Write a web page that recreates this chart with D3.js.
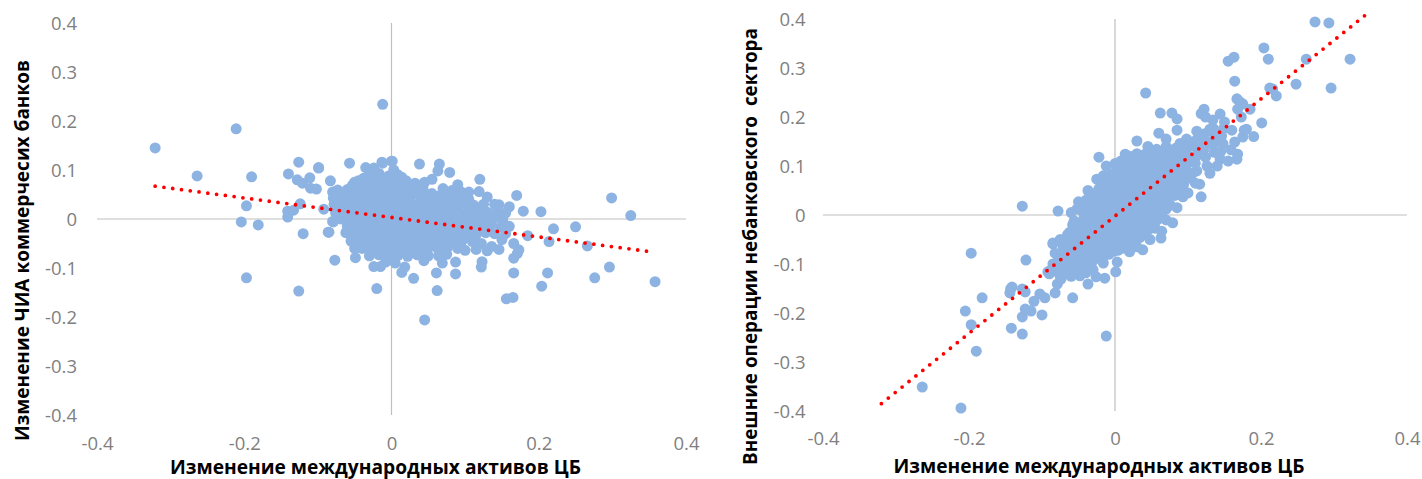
<!DOCTYPE html>
<html><head><meta charset="utf-8">
<script src="https://cdn.jsdelivr.net/npm/d3@7"></script>
<style>html,body{margin:0;padding:0;background:#fff}svg{display:block}</style>
</head><body><svg id="c" width="1422" height="479"></svg>
<script>
const xTicks=[-0.4,-0.2,0,0.2,0.4];
const yTicks=[-0.4,-0.3,-0.2,-0.1,0,0.1,0.2,0.3,0.4];
const xTitle="Изменение международных активов ЦБ";
const yTitleLeft="Изменение ЧИА коммерчесих банков";
const yTitleRight="Внешние операции небанковского  сектора";
const trendLeft=[[-0.321,0.067],[0.358,-0.068]];
const trendRight=[[-0.32,-0.385],[0.343,0.408]];
const leftOutliers=[[-.321,.145],[-.264,.088],[-.211,.184],[-.19,.086],[-.197,.027],[-.204,-.006],[-.181,-.012],[-.197,-.12],[-.126,.116],[-.126,-.147],
[-.012,.234],[-.057,.114],[-.099,.105],[-.035,.105],[-.013,.116],[0,.118],[.038,.112],[.065,.112],[.063,.098],[.079,.095],[.055,.081],[.12,.081],[.094,.056],[.119,.056],[.17,.048],[.146,.029],[.16,.025],[.179,.016],[.203,.015],[.22,-.02],[.214,-.046],[.185,-.034],[.166,-.05],[.173,-.063],[.171,-.07],[.166,-.08],[.166,-.11],[.212,-.11],[.204,-.137],[.165,-.16],[.156,-.163],[.146,-.062],[.123,-.087],[.122,-.098],[.087,-.088],[.087,-.112],[.061,-.11],[.062,-.146],[.03,-.121],[.044,-.085],[.069,-.09],[.064,-.075],[.014,-.109],[.018,-.098],[-.02,-.142],[-.015,-.097],[-.024,-.097],[-.049,-.079],[-.077,-.084],[-.085,-.027],[-.062,-.028],[-.08,-.005],[-.12,-.03],
[.299,.043],[.325,.007],[.25,-.016],[.266,-.055],[.276,-.12],[.296,-.098],[.358,-.128],[.045,-.206],
[-.14,.092],[-.099,.104],[-.128,.08],[-.111,.084],[-.121,.073],[-.11,.063],[-.102,.061],[-.083,.078],[-.073,.059],[-.08,.055],[-.079,.043],[-.056,.061],[-.045,.078],[-.124,.031],[-.141,.016],[-.133,.018],[-.141,.004],[-.092,.02],[-.079,-.006],[-.086,-.027],[-.061,-.027],[-.012,.114],[.001,.118],[-.024,.104],[.003,.1],
[-.075,.045],[-.078,.03],[-.076,.012],[-.05,.075],[.045,.075],[.09,.07],[.105,.055],[.13,.045],[.14,.03],[.155,.012],[.16,-.015],[.155,-.03],[.15,-.042],[.13,-.065],[.115,-.062],[.075,-.072],[.05,-.075],[-.05,-.06],[-.055,-.045]];
const leftCore=[[-.03,.09],[-.017,.093],[-.004,.088],[.008,.091],
[-.045,.075],[-.032,.077],[-.02,.073],[-.006,.076],[.006,.074],[.02,.078],[.032,.073],
[-.06,.06],[-.047,.062],[-.035,.058],[-.021,.061],[-.008,.059],[.005,.063],[.018,.058],[.031,.061],[.043,.06],[.07,.062],[.082,.058],
[-.065,.045],[-.052,.043],[-.04,.047],[-.026,.044],[-.013,.046],[0,.043],[.012,.047],[.025,.044],[.039,.046],[.05,.043],[.064,.047],[.078,.044],[.092,.042],[.105,.04],
[-.07,.03],[-.058,.032],[-.045,.028],[-.032,.031],[-.019,.029],[-.006,.032],[.006,.028],[.02,.031],[.033,.029],[.046,.032],[.058,.028],[.072,.031],[.085,.029],[.098,.032],[.112,.028],[.125,.03],
[-.066,.015],[-.052,.013],[-.04,.017],[-.026,.014],[-.013,.016],[0,.013],[.013,.017],[.026,.014],[.039,.016],[.052,.013],[.065,.017],[.078,.014],[.091,.016],[.104,.013],[.118,.016],[.13,.014],[.143,.012],
[-.068,0],[-.057,-.002],[-.044,.002],[-.031,-.001],[-.018,.001],[-.005,-.002],[.008,.002],[.021,-.001],[.034,.001],[.047,-.002],[.06,.002],[.073,-.001],[.086,.001],[.099,-.002],[.112,.002],[.125,-.001],[.138,.001],[.151,-.002],
[-.06,-.015],[-.048,-.013],[-.035,-.017],[-.022,-.014],[-.009,-.016],[.004,-.013],[.017,-.017],[.03,-.014],[.043,-.016],[.056,-.013],[.069,-.017],[.082,-.014],[.095,-.016],[.108,-.013],[.121,-.017],[.134,-.014],[.148,-.016],
[-.05,-.03],[-.04,-.032],[-.028,-.028],[-.015,-.031],[-.002,-.029],[.011,-.032],[.024,-.028],[.037,-.031],[.05,-.029],[.063,-.032],[.076,-.028],[.089,-.031],[.102,-.029],[.115,-.032],[.128,-.028],[.14,-.03],
[-.046,-.045],[-.034,-.043],[-.021,-.047],[-.008,-.044],[.005,-.046],[.018,-.043],[.031,-.047],[.044,-.044],[.057,-.046],[.07,-.043],[.083,-.047],[.096,-.044],[.11,-.046],[.122,-.05],[.136,-.056],
[-.04,-.06],[-.028,-.058],[-.015,-.062],[-.002,-.059],[.011,-.061],[.024,-.058],[.037,-.062],[.05,-.059],[.063,-.061],[.076,-.058],[.09,-.06],[.1,-.064],
[-.03,-.075],[-.017,-.073],[-.004,-.077],[.009,-.074],[.022,-.076],[.035,-.073],[-.008,-.088],[.005,-.09]];
const leftFill=[[-.038,.083],[-.024,.084],[-.011,.083],[.002,.082],[.014,.085],[.026,.07],[-.053,.069],[-.04,.068],[-.027,.069],[-.014,.067],[0,.069],[.012,.066],[.037,.068],
[-.055,.052],[-.04,.053],[-.028,.052],[-.015,.053],[-.002,.052],[.012,.054],[.025,.052],[.038,.053],[.055,.052],[.07,.053],[.086,.05],
[-.06,.037],[-.046,.036],[-.03,.038],[-.018,.037],[-.004,.038],[.01,.036],[.024,.038],[.04,.037],[.056,.038],[.07,.036],[.085,.037],[.1,.038],
[-.06,.022],[-.045,.023],[-.03,.021],[-.015,.022],[0,.023],[.015,.021],[.03,.022],[.045,.023],[.06,.021],[.075,.022],[.09,.023],[.105,.021],[.12,.022],
[-.06,.007],[-.047,.008],[-.03,.006],[-.016,.007],[-.002,.008],[.014,.006],[.03,.007],[.045,.008],[.06,.006],[.075,.007],[.09,.008],[.105,.006],[.12,.007],[.135,.008],
[-.055,-.008],[-.04,-.007],[-.027,-.009],[-.012,-.008],[.002,-.007],[.016,-.009],[.03,-.008],[.045,-.007],[.06,-.009],[.075,-.008],[.09,-.007],[.105,-.009],[.12,-.008],[.135,-.007],
[-.05,-.023],[-.036,-.022],[-.022,-.024],[-.008,-.023],[.006,-.022],[.02,-.024],[.034,-.023],[.048,-.022],[.062,-.024],[.076,-.023],[.09,-.022],[.104,-.024],[.118,-.023],
[-.042,-.038],[-.028,-.037],[-.014,-.039],[0,-.038],[.014,-.037],[.028,-.039],[.042,-.038],[.056,-.037],[.07,-.039],[.084,-.038],[.098,-.037],
[-.036,-.052],[-.022,-.051],[-.008,-.053],[.006,-.052],[.02,-.051],[.034,-.053],[.048,-.052],[.062,-.051],[.076,-.053],
[-.026,-.067],[-.012,-.066],[.002,-.068],[.016,-.067],[.03,-.066],[.044,-.068]];
const rightOutliers=[[.274,.394],[.293,.392],[.322,.318],[.296,.259],[.262,.318],[.248,.267],[.204,.341],[.21,.318],[.163,.322],[.155,.314],[.164,.273],[.042,.249],[.078,.208],[.122,.216],[.212,.259],[.221,.243],[.216,.257],[.201,.188],[.167,.237],[.175,.227],[.185,.216],[.016,.118],[-.127,.018],[-.078,.008],[-.197,-.078],[-.122,-.092],[-.205,-.196],[-.197,-.224],[-.19,-.278],[-.182,-.169],[-.264,-.351],[-.211,-.394],[-.012,-.247],[-.096,-.169],[-.143,-.151],[-.123,-.157],[-.142,-.231],[-.127,-.243],[-.127,-.208],[-.123,-.192],[-.115,-.196],[-.111,-.176],[-.103,-.161],[-.1,-.204],[-.058,-.169],[-.089,-.114],[-.085,-.059],
[.062,.208],[.085,.196],[-.022,.118],[.03,.151],[.118,.037],[.079,-.016],[.038,-.071],[.055,-.027],[.064,-.033],[.063,-.047],[.001,-.116],[-.014,-.129],[-.037,-.141],[-.026,-.126],[.003,-.096],[-.016,-.098],[-.048,-.124],[-.062,-.035],[-.085,-.057],[-.082,-.078],[-.05,.027],[.014,.124],[.041,.124],[-.025,.073],[-.016,.08],[-.03,.043],[.144,.206],[.134,.194],[.06,.167],[.085,.173],[.112,.171],[.144,.114],[.167,.114],[.168,.124],[.159,.133],[.116,.063],[.126,.1],[.093,.037],[.175,.159],[.177,.173],[.164,.149],[.171,.231],[.168,.216],
[-.141,-.147],[-.144,-.159],[-.127,-.151],[-.082,-.159],[-.079,-.141],[-.074,-.131],[-.092,-.116],[-.064,-.1],[-.071,-.104],[-.052,-.11],[-.071,-.065],
[.118,.207],[.124,.2],[.16,.173],[.15,.19],[.173,.2],[.18,.175],[.19,.16],[.14,.16],[.13,.175],[.12,.145],[.155,.11],[.145,.13],
[-.09,-.12],[-.085,-.1],[-.075,-.125],[-.06,-.125],[-.04,-.118],[-.03,-.112],[-.075,-.05],[-.065,-.04],[-.058,-.02],[-.06,.005],[-.052,.012],[-.04,.03],[-.037,.05],[-.012,.1],[0,.105],[.008,.11],[.02,.12],[.03,.125],[.05,.13],[.045,.14],[.07,.155],[.02,-.075],[.03,-.065],[.048,-.05],[.07,-.01],[.085,.015],[.1,.045],[.11,.065],[.13,.085],[.14,.1]];
const rightCore=[[-.08,-.115],[-.078,-.098],[-.08,-.08],
[-.068,-.12],[-.066,-.104],[-.069,-.088],[-.067,-.072],[-.065,-.055],
[-.056,-.115],[-.054,-.098],[-.057,-.082],[-.055,-.066],[-.056,-.05],[-.053,-.034],[-.056,-.012],
[-.044,-.105],[-.046,-.088],[-.043,-.072],[-.045,-.056],[-.044,-.04],[-.046,-.024],[-.043,-.008],[-.045,.008],
[-.032,-.098],[-.034,-.082],[-.031,-.066],[-.033,-.05],[-.032,-.034],[-.034,-.018],[-.031,-.002],[-.033,.014],[-.032,.03],
[-.02,-.09],[-.022,-.074],[-.019,-.058],[-.021,-.042],[-.02,-.026],[-.022,-.01],[-.019,.006],[-.021,.022],[-.02,.038],[-.022,.054],
[-.008,-.08],[-.01,-.064],[-.007,-.048],[-.009,-.032],[-.008,-.016],[-.01,0],[-.007,.016],[-.009,.032],[-.008,.048],[-.01,.064],[-.007,.08],
[.004,-.072],[.002,-.056],[.005,-.04],[.003,-.024],[.004,-.008],[.002,.008],[.005,.024],[.003,.04],[.004,.056],[.002,.072],[.005,.088],
[.016,-.058],[.014,-.042],[.017,-.026],[.015,-.01],[.016,.006],[.014,.022],[.017,.038],[.015,.054],[.016,.07],[.014,.086],[.017,.102],
[.028,-.05],[.026,-.034],[.029,-.018],[.027,-.002],[.028,.014],[.026,.03],[.029,.046],[.027,.062],[.028,.078],[.026,.094],[.029,.11],
[.04,-.04],[.038,-.024],[.041,-.008],[.039,.008],[.04,.024],[.038,.04],[.041,.056],[.039,.072],[.04,.088],[.038,.104],
[.052,-.014],[.05,.002],[.053,.018],[.051,.034],[.052,.05],[.05,.066],[.053,.082],[.051,.098],[.052,.114],
[.064,.004],[.062,.02],[.065,.036],[.063,.052],[.064,.068],[.062,.084],[.065,.1],[.063,.116],
[.076,.02],[.074,.036],[.077,.052],[.075,.068],[.076,.084],[.074,.1],[.077,.116],[.075,.132],
[.088,.05],[.086,.066],[.089,.082],[.087,.098],[.088,.114],[.086,.13],[.089,.146],
[.1,.075],[.098,.091],[.101,.107],[.099,.123],[.1,.139],[.098,.155],
[.112,.09],[.11,.106],[.113,.122],[.111,.138],[.112,.154],
[.124,.118],[.122,.134],[.125,.15],[.123,.166],
[.136,.128],[.134,.144],[.137,.16],[.135,.176],
[.148,.145],[.146,.161],[.149,.177]];
const rightFill=[[-.074,-.11],[-.072,-.094],[-.061,-.11],[-.06,-.094],[-.062,-.078],[-.061,-.062],[-.05,-.104],[-.049,-.088],[-.05,-.072],[-.051,-.056],[-.05,-.04],[-.049,-.024],
[-.038,-.094],[-.039,-.078],[-.038,-.062],[-.037,-.046],[-.039,-.03],[-.038,-.014],[-.037,.002],[-.039,.016],
[-.026,-.086],[-.027,-.07],[-.025,-.054],[-.026,-.038],[-.028,-.022],[-.026,-.006],[-.025,.01],[-.027,.026],[-.026,.044],
[-.014,-.082],[-.015,-.066],[-.013,-.05],[-.014,-.034],[-.016,-.018],[-.014,-.002],[-.013,.014],[-.015,.03],[-.014,.046],[-.015,.062],
[-.002,-.074],[-.003,-.058],[-.001,-.042],[-.002,-.026],[-.004,-.01],[-.002,.006],[-.001,.022],[-.003,.038],[-.002,.054],[-.003,.07],[-.001,.086],
[.01,-.068],[.009,-.052],[.011,-.036],[.01,-.02],[.008,-.004],[.01,.012],[.011,.028],[.009,.044],[.01,.06],[.009,.076],[.011,.092],
[.022,-.058],[.021,-.042],[.023,-.026],[.022,-.01],[.02,.006],[.022,.022],[.023,.038],[.021,.054],[.022,.07],[.021,.086],[.023,.102],
[.034,-.046],[.033,-.03],[.035,-.014],[.034,.002],[.032,.018],[.034,.034],[.035,.05],[.033,.066],[.034,.082],[.033,.098],[.035,.114],
[.046,-.03],[.045,-.014],[.047,.002],[.046,.018],[.044,.034],[.046,.05],[.047,.066],[.045,.082],[.046,.098],[.045,.114],
[.058,-.01],[.057,.006],[.059,.022],[.058,.038],[.056,.054],[.058,.07],[.059,.086],[.057,.102],[.058,.118],[.057,.134],
[.07,.012],[.069,.028],[.071,.044],[.07,.06],[.068,.076],[.07,.092],[.071,.108],[.069,.124],[.07,.14],
[.082,.04],[.081,.056],[.083,.072],[.082,.088],[.08,.104],[.082,.12],[.083,.136],
[.094,.062],[.093,.078],[.095,.094],[.094,.11],[.092,.126],[.094,.142],
[.106,.085],[.107,.117],[.104,.149]];

const blue="#8DB3E2", gray="#7f7f7f", lineGray="#bfbfbf";
const font="'Open Sans',sans-serif";
const svg=d3.select("#c");

function panel(o){
  const x=d3.scaleLinear().domain([-0.4,0.4]).range([o.x0,o.x1]);
  const y=d3.scaleLinear().domain([-0.4,0.4]).range([o.y0,o.y1]);
  const g=svg.append("g");
  g.append("line").attr("x1",x(-0.4)).attr("x2",x(0.4)).attr("y1",y(0)).attr("y2",y(0)).attr("stroke",lineGray).attr("stroke-width",1.2);
  g.append("line").attr("x1",x(0)).attr("x2",x(0)).attr("y1",y(0.4)).attr("y2",y(-0.4)).attr("stroke",lineGray).attr("stroke-width",1.2);
  const fmt=d=>d===0?"0":String(d);
  const ax=g.append("g").attr("transform",`translate(0,${o.xLabelY})`).call(d3.axisBottom(x).tickValues(xTicks).tickFormat(fmt).tickSize(0).tickPadding(0));
  const ay=g.append("g").attr("transform",`translate(${o.yLabelX},1)`).call(d3.axisLeft(y).tickValues(yTicks).tickFormat(fmt).tickSize(0).tickPadding(0));
  [ax,ay].forEach(a=>{a.select(".domain").remove();a.selectAll("text").attr("fill",gray).style("font-family",font).style("font-size","18.5px");});
  g.append("g").selectAll("circle").data(o.points).join("circle")
    .attr("cx",d=>x(d[0])).attr("cy",d=>y(d[1])).attr("r",5.5).attr("fill",blue);
  g.append("path").attr("d",d3.line().x(d=>x(d[0])).y(d=>y(d[1]))(o.trend))
    .attr("fill","none").attr("stroke","#ff0000").attr("stroke-width",3.8).attr("stroke-linecap","round").attr("stroke-dasharray","0 8.85");
  g.append("text").attr("x",o.xTitleX).attr("y",o.xTitleY).attr("text-anchor","middle").text(xTitle)
    .attr("textLength",411).attr("lengthAdjust","spacingAndGlyphs")
    .attr("font-family",font).attr("font-weight",700).attr("font-size",19).attr("fill","#000");
  g.append("text").attr("transform",`translate(${o.yTitleX},${o.yTitleY}) rotate(-90)`).attr("text-anchor","middle").text(o.yTitle)
    .attr("textLength",o.yTitleLen).attr("lengthAdjust","spacingAndGlyphs").style("white-space","pre")
    .attr("font-family",font).attr("font-weight",700).attr("font-size",19).attr("fill","#000");
}
panel({x0:97,x1:686,y0:415,y1:23,points:leftCore.concat(leftFill,leftOutliers),trend:trendLeft,xLabelY:437,yLabelX:77,
  xTitleX:375.5,xTitleY:473.5,yTitleX:29,yTitleY:250.5,yTitle:yTitleLeft,yTitleLen:381});
panel({x0:823,x1:1407,y0:411,y1:19,points:rightCore.concat(rightFill,rightOutliers),trend:trendRight,xLabelY:432,yLabelX:805.5,
  xTitleX:1099,xTitleY:473,yTitleX:757,yTitleY:246.5,yTitle:yTitleRight,yTitleLen:437});
</script></body></html>
